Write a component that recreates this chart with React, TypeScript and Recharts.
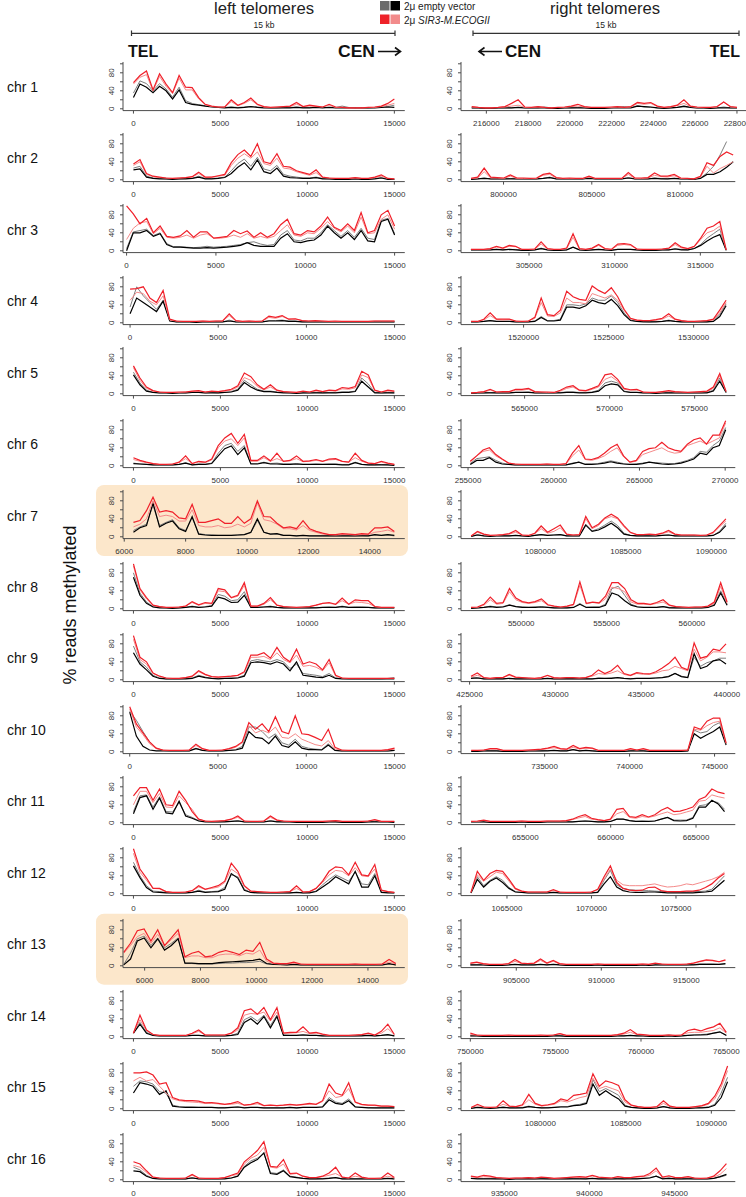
import { LineChart, Line, XAxis, YAxis } from 'recharts'

// bp offsets inside each 15 kb window (41 sampling points)
const OFFSETS = [
  0, 375, 750, 1125, 1500, 1875, 2250, 2625, 3000, 3375, 3750, 4125, 4500, 4875, 5250, 5625, 6000,
  6375, 6750, 7125, 7500, 7875, 8250, 8625, 9000, 9375, 9750, 10125, 10500, 10875, 11250, 11625,
  12000, 12375, 12750, 13125, 13500, 13875, 14250, 14625, 15000,
]

const CHROMS = ['chr 1', 'chr 2', 'chr 3', 'chr 4', 'chr 5', 'chr 6', 'chr 7', 'chr 8', 'chr 9', 'chr 10', 'chr 11', 'chr 12', 'chr 13', 'chr 14', 'chr 15', 'chr 16']

// ---------- left telomeres: % reads methylated ----------
const L1_grey = [35, 62, 56, 40, 56, 44, 26, 48, 18, 12, 9, 7, 5, 3, 3, 4, 3, 4, 5, 4, 3, 2, 2, 3, 3, 4, 3, 3, 3, 3, 3, 3, 6, 3, 2, 2, 2, 3, 3, 5, 8]
const L1_black = [25, 55, 48, 36, 50, 40, 22, 42, 14, 10, 8, 6, 4, 3, 2, 3, 2, 3, 5, 3, 2, 2, 2, 2, 2, 3, 2, 2, 3, 2, 3, 2, 2, 2, 2, 2, 2, 2, 3, 4, 3]
const L1_pink = [55, 70, 76, 40, 72, 50, 34, 68, 42, 42, 22, 9, 5, 4, 4, 16, 7, 12, 20, 9, 4, 3, 4, 5, 5, 10, 5, 6, 5, 4, 8, 3, 3, 2, 2, 2, 3, 3, 5, 8, 12]
const L1_red = [58, 74, 84, 42, 78, 55, 36, 74, 48, 47, 25, 10, 6, 4, 4, 20, 8, 14, 24, 10, 5, 3, 4, 5, 6, 14, 5, 8, 6, 4, 10, 4, 3, 2, 2, 2, 3, 4, 6, 12, 22]

const L2_grey = [26, 30, 8, 4, 3, 2, 2, 2, 3, 3, 8, 3, 3, 4, 6, 20, 36, 46, 30, 50, 24, 20, 32, 12, 8, 6, 4, 4, 6, 3, 2, 2, 2, 2, 3, 2, 2, 3, 5, 2, 1]
const L2_black = [22, 24, 6, 3, 2, 2, 1, 2, 2, 3, 6, 2, 2, 3, 5, 14, 28, 38, 22, 44, 18, 14, 26, 8, 5, 4, 3, 3, 5, 2, 2, 1, 1, 1, 2, 1, 1, 2, 4, 1, 1]
const L2_pink = [32, 40, 12, 7, 5, 4, 3, 4, 5, 6, 14, 5, 6, 8, 10, 32, 48, 58, 48, 62, 36, 32, 48, 26, 24, 18, 14, 10, 16, 5, 4, 3, 3, 3, 4, 3, 3, 5, 8, 3, 2]
const L2_red = [35, 45, 14, 8, 6, 4, 3, 4, 5, 7, 17, 6, 6, 9, 12, 38, 56, 66, 52, 80, 40, 36, 58, 30, 28, 20, 16, 12, 22, 6, 4, 3, 3, 3, 5, 3, 3, 6, 11, 3, 2]

const L3_grey = [5, 42, 45, 48, 34, 40, 16, 9, 9, 8, 7, 8, 10, 8, 9, 10, 12, 14, 18, 20, 15, 12, 14, 35, 45, 24, 22, 28, 28, 40, 58, 45, 32, 45, 30, 50, 28, 25, 68, 72, 38]
const L3_black = [0, 40, 40, 45, 32, 38, 14, 8, 8, 7, 6, 6, 7, 6, 7, 8, 10, 12, 18, 12, 10, 10, 10, 28, 38, 20, 18, 22, 24, 35, 55, 40, 28, 40, 25, 45, 22, 20, 65, 70, 35]
const L3_pink = [25, 50, 62, 65, 38, 50, 30, 28, 30, 35, 28, 35, 38, 28, 28, 30, 35, 30, 38, 28, 32, 28, 32, 45, 58, 35, 32, 40, 38, 50, 65, 50, 42, 55, 40, 75, 38, 40, 70, 80, 48]
const L3_red = [100, 82, 60, 72, 40, 55, 32, 30, 33, 45, 30, 42, 42, 28, 30, 32, 45, 38, 44, 30, 40, 30, 38, 58, 70, 38, 35, 45, 42, 55, 75, 52, 45, 60, 45, 85, 40, 45, 80, 90, 55]

const L4_grey = [35, 80, 60, 45, 30, 50, 5, 2, 2, 2, 2, 2, 2, 2, 2, 6, 2, 2, 2, 2, 2, 5, 5, 6, 4, 4, 2, 2, 2, 2, 2, 2, 2, 2, 2, 2, 2, 2, 2, 2, 2]
const L4_black = [20, 55, 45, 35, 25, 48, 4, 2, 2, 2, 1, 2, 2, 2, 2, 4, 2, 2, 2, 2, 2, 4, 4, 5, 3, 3, 2, 2, 2, 2, 2, 2, 2, 2, 2, 2, 2, 2, 2, 2, 2]
const L4_pink = [50, 68, 65, 48, 40, 60, 6, 4, 3, 3, 3, 4, 3, 4, 4, 16, 4, 3, 4, 3, 4, 12, 10, 14, 8, 8, 5, 4, 4, 4, 3, 3, 3, 3, 3, 3, 3, 4, 4, 4, 4]
const L4_red = [75, 76, 80, 55, 45, 72, 8, 4, 3, 3, 3, 4, 3, 4, 4, 20, 5, 3, 4, 3, 4, 15, 12, 16, 8, 9, 5, 4, 5, 4, 3, 4, 3, 3, 3, 3, 3, 4, 4, 4, 4]

const L5_grey = [48, 24, 8, 3, 2, 2, 2, 2, 2, 3, 3, 2, 3, 2, 3, 5, 10, 30, 20, 10, 6, 6, 4, 3, 2, 2, 2, 2, 3, 2, 3, 3, 4, 4, 6, 35, 22, 3, 2, 3, 2]
const L5_black = [42, 20, 6, 3, 2, 2, 1, 2, 2, 3, 3, 2, 2, 2, 3, 4, 8, 25, 15, 8, 5, 5, 3, 2, 2, 1, 2, 2, 2, 2, 2, 2, 3, 3, 5, 28, 15, 2, 2, 2, 2]
const L5_pink = [58, 30, 12, 6, 4, 3, 3, 3, 4, 5, 6, 4, 5, 5, 6, 8, 15, 36, 30, 16, 9, 15, 7, 5, 4, 3, 5, 4, 6, 5, 7, 6, 11, 10, 13, 42, 36, 7, 4, 6, 5]
const L5_red = [62, 35, 15, 7, 4, 3, 3, 4, 4, 6, 7, 4, 6, 5, 7, 10, 18, 46, 38, 20, 10, 20, 8, 5, 4, 3, 6, 4, 8, 5, 8, 7, 14, 12, 16, 50, 42, 8, 4, 8, 6]

const L6_grey = [6, 4, 3, 2, 2, 2, 2, 3, 7, 2, 4, 3, 6, 28, 45, 50, 32, 45, 5, 5, 8, 5, 6, 4, 4, 5, 3, 3, 4, 3, 4, 4, 3, 3, 8, 3, 2, 2, 3, 2, 2]
const L6_black = [5, 4, 3, 2, 2, 2, 2, 3, 6, 2, 3, 3, 5, 22, 38, 44, 25, 40, 4, 4, 7, 4, 4, 3, 3, 4, 3, 3, 3, 3, 3, 3, 2, 2, 7, 3, 2, 2, 2, 2, 1]
const L6_pink = [14, 10, 7, 5, 3, 3, 4, 7, 16, 5, 8, 7, 13, 40, 55, 60, 45, 62, 10, 10, 18, 10, 16, 10, 11, 16, 9, 10, 12, 10, 13, 14, 10, 8, 18, 10, 6, 5, 8, 5, 3]
const L6_red = [18, 12, 8, 5, 3, 3, 4, 8, 22, 5, 10, 8, 15, 45, 62, 72, 50, 70, 12, 12, 22, 11, 28, 10, 12, 22, 10, 11, 14, 10, 15, 16, 10, 8, 28, 12, 6, 5, 10, 6, 3]

const L7_grey = [14, 22, 28, 70, 25, 32, 38, 20, 14, 42, 7, 5, 4, 3, 3, 3, 4, 5, 9, 36, 10, 6, 6, 3, 3, 2, 3, 2, 2, 2, 2, 2, 2, 2, 2, 3, 2, 4, 3, 4, 2]
const L7_black = [10, 20, 25, 75, 22, 30, 35, 18, 12, 45, 6, 4, 3, 3, 3, 3, 4, 5, 10, 40, 10, 6, 7, 3, 3, 2, 3, 2, 2, 2, 2, 2, 2, 2, 2, 2, 2, 5, 3, 5, 3]
const L7_pink = [22, 28, 40, 80, 45, 48, 45, 35, 35, 60, 25, 22, 22, 25, 20, 22, 28, 22, 30, 75, 38, 35, 28, 18, 18, 15, 25, 14, 10, 6, 5, 4, 5, 5, 4, 5, 5, 10, 12, 15, 10]
const L7_red = [32, 36, 58, 88, 55, 58, 55, 42, 40, 72, 32, 32, 36, 40, 30, 30, 45, 30, 40, 80, 45, 44, 30, 20, 22, 18, 36, 18, 12, 8, 5, 5, 7, 6, 5, 7, 6, 20, 20, 22, 12]

const L8_grey = [80, 35, 15, 5, 3, 2, 2, 2, 3, 6, 3, 5, 7, 32, 28, 18, 20, 38, 4, 3, 4, 6, 3, 2, 2, 2, 2, 2, 3, 3, 4, 3, 6, 3, 4, 4, 3, 2, 2, 2, 2]
const L8_black = [70, 30, 12, 4, 2, 2, 1, 2, 3, 5, 3, 4, 6, 26, 22, 14, 15, 30, 3, 3, 4, 5, 3, 2, 2, 2, 2, 2, 2, 3, 3, 3, 5, 3, 3, 3, 3, 2, 2, 2, 2]
const L8_pink = [95, 42, 22, 8, 5, 3, 3, 4, 6, 14, 8, 12, 11, 40, 38, 24, 28, 52, 6, 6, 10, 20, 8, 5, 4, 3, 4, 5, 8, 12, 12, 10, 18, 10, 15, 14, 12, 5, 3, 3, 3]
const L8_red = [100, 45, 25, 8, 5, 3, 3, 4, 6, 16, 9, 14, 12, 45, 42, 25, 30, 58, 6, 6, 12, 25, 8, 5, 4, 3, 4, 5, 8, 12, 14, 10, 24, 10, 20, 18, 18, 5, 3, 3, 3]

const L9_grey = [75, 40, 28, 10, 4, 2, 2, 2, 3, 4, 10, 6, 3, 3, 3, 4, 5, 10, 42, 45, 42, 40, 45, 40, 25, 35, 14, 12, 10, 7, 14, 4, 3, 2, 2, 2, 2, 2, 2, 3, 5]
const L9_black = [60, 35, 22, 8, 3, 2, 2, 2, 2, 3, 8, 5, 3, 2, 3, 3, 4, 8, 38, 40, 38, 35, 40, 35, 20, 40, 10, 8, 6, 5, 10, 3, 2, 2, 2, 2, 2, 2, 2, 2, 2]
const L9_pink = [90, 45, 35, 14, 8, 4, 3, 3, 5, 7, 18, 11, 7, 6, 7, 8, 10, 16, 50, 50, 52, 45, 60, 45, 38, 55, 30, 32, 28, 20, 38, 8, 4, 3, 3, 3, 3, 3, 3, 3, 3]
const L9_red = [98, 50, 40, 15, 8, 4, 3, 3, 5, 8, 20, 12, 7, 6, 7, 8, 10, 18, 55, 55, 60, 48, 72, 50, 40, 68, 35, 40, 35, 22, 45, 10, 4, 3, 3, 3, 3, 3, 3, 3, 3]

const L10_grey = [90, 70, 45, 22, 8, 3, 2, 2, 2, 2, 8, 3, 2, 2, 2, 3, 5, 12, 55, 55, 45, 30, 40, 20, 15, 28, 12, 8, 6, 5, 18, 3, 2, 2, 2, 2, 2, 2, 2, 2, 3]
const L10_black = [88, 35, 12, 4, 2, 2, 2, 2, 2, 2, 7, 3, 2, 2, 2, 3, 4, 8, 45, 32, 30, 18, 35, 14, 10, 22, 8, 5, 5, 4, 15, 3, 2, 2, 2, 2, 2, 2, 2, 2, 3]
const L10_pink = [95, 55, 38, 18, 7, 4, 3, 3, 3, 4, 14, 6, 3, 3, 4, 6, 10, 20, 58, 42, 48, 42, 55, 32, 30, 40, 28, 22, 16, 13, 25, 6, 4, 3, 3, 3, 3, 3, 3, 4, 6]
const L10_red = [100, 62, 42, 22, 8, 4, 3, 3, 3, 4, 17, 7, 3, 3, 4, 7, 12, 22, 65, 50, 62, 45, 78, 45, 40, 80, 40, 38, 32, 25, 50, 10, 4, 3, 3, 3, 3, 3, 3, 5, 8]

const L11_grey = [25, 60, 62, 35, 58, 25, 24, 45, 18, 12, 5, 3, 2, 2, 3, 3, 5, 2, 2, 2, 2, 5, 3, 2, 2, 2, 2, 2, 2, 2, 2, 2, 2, 2, 2, 2, 2, 3, 2, 2, 2]
const L11_black = [20, 56, 60, 30, 55, 22, 20, 48, 15, 10, 4, 2, 2, 2, 2, 3, 4, 2, 2, 2, 2, 4, 2, 2, 2, 1, 1, 1, 1, 1, 2, 2, 1, 1, 1, 1, 2, 2, 2, 2, 1]
const L11_pink = [40, 70, 70, 45, 65, 35, 34, 60, 45, 30, 8, 4, 3, 4, 5, 8, 12, 4, 3, 3, 4, 12, 6, 4, 3, 3, 3, 3, 3, 3, 4, 5, 3, 3, 3, 3, 4, 6, 3, 3, 3]
const L11_red = [60, 78, 78, 50, 75, 40, 38, 70, 50, 25, 8, 4, 3, 4, 5, 8, 15, 4, 3, 3, 4, 15, 6, 4, 3, 3, 3, 3, 3, 3, 4, 5, 3, 3, 3, 3, 4, 7, 3, 3, 3]

const L12_grey = [70, 40, 18, 6, 5, 3, 2, 2, 2, 3, 8, 4, 5, 6, 14, 42, 38, 10, 3, 3, 2, 2, 2, 2, 2, 3, 2, 3, 6, 20, 32, 42, 35, 28, 48, 22, 20, 45, 4, 3, 2]
const L12_black = [62, 36, 14, 4, 3, 2, 2, 2, 2, 3, 6, 3, 4, 5, 10, 45, 35, 8, 3, 2, 2, 2, 2, 2, 2, 3, 2, 2, 5, 15, 25, 38, 30, 22, 50, 15, 15, 40, 3, 2, 2]
const L12_pink = [90, 48, 30, 12, 11, 5, 3, 3, 4, 7, 15, 10, 12, 15, 25, 55, 45, 16, 6, 5, 4, 3, 3, 4, 5, 12, 4, 5, 12, 25, 42, 52, 50, 40, 58, 40, 38, 55, 8, 5, 3]
const L12_red = [100, 55, 35, 12, 12, 5, 3, 3, 4, 7, 18, 10, 14, 18, 28, 68, 50, 18, 6, 5, 4, 3, 3, 4, 5, 18, 4, 5, 12, 28, 50, 60, 58, 42, 70, 42, 40, 65, 8, 5, 3]

const L13_grey = [3, 28, 60, 66, 45, 62, 40, 50, 62, 5, 5, 4, 4, 4, 5, 6, 6, 7, 7, 8, 10, 4, 3, 2, 2, 3, 2, 2, 2, 2, 2, 2, 2, 2, 2, 2, 2, 2, 2, 4, 2]
const L13_black = [2, 15, 55, 62, 40, 60, 35, 45, 60, 6, 6, 5, 5, 5, 7, 8, 9, 10, 11, 12, 15, 5, 3, 3, 2, 3, 2, 2, 2, 2, 2, 2, 2, 2, 2, 2, 2, 2, 2, 5, 2]
const L13_pink = [28, 45, 65, 72, 50, 70, 45, 58, 72, 18, 22, 22, 18, 18, 24, 26, 26, 22, 28, 26, 35, 10, 5, 4, 4, 6, 4, 3, 3, 3, 3, 3, 3, 3, 4, 3, 3, 3, 4, 8, 4]
const L13_red = [30, 50, 78, 82, 55, 80, 45, 62, 80, 20, 28, 32, 20, 22, 30, 34, 30, 25, 35, 32, 52, 15, 6, 5, 5, 8, 4, 3, 3, 3, 3, 3, 3, 3, 4, 3, 3, 3, 4, 14, 5]

const L14_grey = [8, 32, 10, 3, 2, 2, 2, 2, 2, 3, 3, 2, 2, 2, 2, 3, 8, 38, 45, 35, 48, 25, 48, 4, 3, 3, 5, 3, 3, 2, 2, 2, 2, 2, 2, 3, 3, 2, 3, 4, 2]
const L14_black = [8, 28, 8, 3, 2, 2, 2, 2, 2, 3, 3, 2, 2, 2, 2, 3, 5, 32, 40, 28, 45, 20, 45, 3, 3, 3, 4, 3, 3, 2, 2, 2, 2, 2, 2, 2, 3, 2, 3, 5, 2]
const L14_pink = [10, 38, 14, 5, 3, 3, 3, 3, 3, 7, 12, 4, 4, 4, 4, 7, 15, 48, 52, 50, 55, 35, 55, 8, 8, 9, 12, 7, 8, 5, 3, 3, 3, 3, 4, 5, 7, 4, 8, 18, 5]
const L14_red = [8, 48, 15, 5, 3, 3, 3, 3, 3, 8, 15, 4, 4, 4, 4, 8, 20, 58, 62, 50, 65, 38, 65, 8, 10, 10, 22, 8, 10, 6, 3, 3, 3, 3, 4, 5, 8, 4, 12, 28, 5]

const L15_grey = [50, 62, 60, 55, 38, 35, 8, 5, 4, 4, 3, 3, 3, 3, 3, 3, 4, 3, 3, 3, 2, 2, 2, 2, 3, 2, 3, 3, 3, 5, 25, 15, 12, 22, 5, 3, 3, 2, 2, 2, 2]
const L15_black = [35, 58, 55, 50, 32, 40, 6, 4, 3, 3, 3, 3, 3, 2, 2, 3, 4, 2, 3, 3, 2, 2, 2, 2, 3, 2, 3, 3, 3, 4, 20, 12, 10, 18, 4, 3, 2, 2, 2, 2, 2]
const L15_pink = [62, 70, 62, 65, 50, 35, 22, 18, 16, 15, 14, 12, 12, 11, 10, 10, 12, 8, 9, 11, 7, 8, 7, 8, 9, 8, 9, 10, 10, 16, 40, 25, 28, 45, 14, 9, 8, 7, 6, 6, 5]
const L15_red = [80, 80, 82, 75, 55, 58, 25, 20, 18, 18, 17, 13, 14, 12, 10, 12, 16, 8, 10, 14, 7, 8, 7, 8, 10, 8, 10, 12, 10, 18, 55, 35, 30, 58, 15, 10, 8, 8, 6, 6, 5]

const L16_grey = [28, 22, 10, 3, 2, 2, 2, 2, 2, 5, 2, 2, 2, 2, 3, 4, 8, 30, 42, 48, 58, 16, 14, 22, 8, 6, 3, 2, 2, 3, 4, 5, 2, 2, 2, 2, 2, 2, 2, 3, 2]
const L16_black = [20, 18, 8, 3, 2, 2, 2, 2, 2, 4, 2, 2, 2, 2, 2, 4, 8, 28, 38, 45, 60, 14, 12, 20, 7, 5, 3, 2, 2, 2, 3, 5, 2, 2, 2, 2, 2, 2, 2, 3, 2]
const L16_pink = [32, 28, 16, 6, 4, 3, 3, 3, 4, 10, 4, 3, 3, 3, 5, 9, 12, 35, 48, 55, 72, 28, 26, 35, 12, 14, 7, 5, 5, 7, 10, 14, 6, 4, 8, 5, 3, 3, 4, 8, 4]
const L16_red = [40, 35, 20, 6, 4, 3, 3, 3, 4, 12, 4, 3, 3, 3, 5, 10, 15, 40, 52, 65, 85, 30, 28, 45, 14, 15, 8, 5, 5, 8, 15, 28, 6, 4, 15, 6, 3, 3, 4, 15, 5]

// ---------- right telomeres ----------
const R1_grey = [2, 2, 2, 2, 2, 2, 2, 3, 2, 2, 2, 4, 2, 2, 2, 2, 3, 2, 2, 2, 2, 2, 4, 5, 3, 7, 4, 3, 2, 2, 2, 3, 4, 3, 2, 2, 2, 2, 4, 2, 2]
const R1_black = [2, 2, 1, 1, 2, 2, 2, 3, 2, 2, 2, 2, 1, 1, 2, 2, 2, 2, 1, 1, 1, 2, 2, 2, 2, 6, 5, 4, 2, 1, 2, 3, 6, 3, 2, 2, 1, 2, 2, 2, 2]
const R1_pink = [4, 3, 2, 2, 3, 4, 6, 8, 3, 3, 4, 3, 2, 3, 3, 5, 6, 4, 3, 3, 3, 3, 4, 3, 4, 12, 10, 12, 5, 3, 4, 7, 12, 5, 3, 3, 3, 4, 15, 4, 3]
const R1_red = [5, 3, 2, 2, 3, 5, 12, 20, 4, 3, 5, 3, 2, 3, 4, 6, 10, 5, 3, 3, 3, 4, 5, 3, 5, 14, 12, 14, 6, 3, 5, 8, 20, 6, 4, 3, 3, 5, 15, 5, 3]

const R2_grey = [2, 2, 4, 2, 2, 2, 3, 2, 2, 2, 2, 3, 6, 2, 2, 2, 2, 2, 4, 2, 2, 2, 2, 2, 5, 2, 2, 2, 4, 3, 2, 3, 2, 2, 2, 4, 15, 30, 55, 85, null]
const R2_black = [1, 2, 3, 2, 2, 2, 2, 2, 2, 2, 2, 3, 5, 2, 2, 2, 2, 2, 3, 2, 2, 2, 2, 2, 4, 2, 2, 2, 3, 2, 2, 3, 2, 2, 1, 3, 12, 12, 18, 28, 40]
const R2_pink = [3, 4, 18, 4, 4, 3, 8, 3, 3, 3, 3, 10, 12, 4, 3, 3, 3, 3, 6, 3, 3, 3, 3, 3, 12, 3, 3, 4, 10, 7, 6, 9, 3, 3, 2, 6, 30, 15, 25, 32, 40]
const R2_red = [3, 6, 26, 6, 5, 4, 11, 4, 4, 3, 4, 12, 15, 5, 3, 4, 3, 3, 8, 3, 3, 3, 3, 3, 16, 4, 4, 5, 15, 8, 8, 12, 4, 3, 2, 8, 38, 32, 52, 62, 55]

const R3_grey = [2, 2, 2, 2, 3, 2, 3, 3, 2, 2, 2, 6, 2, 2, 2, 2, 8, 2, 2, 2, 3, 2, 2, 3, 3, 3, 2, 2, 2, 2, 2, 2, 5, 3, 2, 5, 14, 28, 38, 48, 1]
const R3_black = [2, 2, 2, 2, 3, 2, 3, 2, 1, 1, 2, 5, 2, 1, 1, 2, 8, 2, 1, 2, 3, 2, 1, 3, 3, 3, 2, 1, 1, 1, 2, 2, 4, 2, 2, 5, 12, 22, 30, 36, 1]
const R3_pink = [3, 3, 3, 4, 8, 5, 10, 9, 3, 3, 4, 15, 4, 3, 3, 5, 30, 4, 3, 5, 12, 4, 3, 12, 14, 12, 4, 3, 3, 3, 4, 5, 14, 6, 5, 9, 25, 40, 45, 55, 2]
const R3_red = [3, 3, 3, 5, 10, 6, 12, 10, 3, 3, 4, 20, 5, 3, 3, 6, 38, 5, 3, 6, 14, 5, 3, 15, 16, 14, 4, 3, 3, 3, 4, 6, 18, 8, 5, 10, 28, 50, 55, 65, 2]

const R4_grey = [2, 2, 3, 5, 3, 3, 3, 2, 2, 2, 4, 14, 5, 5, 8, 40, 40, 38, 42, 55, 50, 50, 60, 45, 22, 6, 3, 3, 2, 3, 3, 6, 3, 2, 2, 2, 2, 2, 4, 18, 42]
const R4_black = [2, 2, 3, 5, 3, 3, 3, 2, 2, 2, 3, 12, 4, 4, 6, 35, 35, 32, 38, 50, 45, 42, 52, 38, 18, 5, 3, 2, 2, 2, 3, 5, 3, 2, 2, 2, 2, 2, 3, 14, 38]
const R4_pink = [3, 3, 6, 16, 7, 6, 7, 4, 3, 4, 10, 45, 15, 14, 22, 55, 45, 45, 42, 65, 60, 55, 62, 50, 28, 9, 6, 5, 5, 6, 8, 15, 7, 5, 3, 3, 4, 5, 6, 22, 45]
const R4_red = [3, 3, 8, 22, 8, 8, 8, 4, 3, 4, 12, 55, 18, 16, 28, 70, 58, 52, 50, 82, 72, 65, 78, 58, 30, 10, 6, 5, 5, 7, 10, 20, 8, 5, 3, 3, 4, 5, 8, 28, 50]

const R5_grey = [1, 2, 2, 3, 2, 2, 2, 3, 3, 4, 2, 2, 2, 2, 3, 4, 4, 3, 3, 4, 8, 24, 28, 24, 6, 3, 3, 2, 2, 2, 2, 2, 2, 2, 2, 2, 2, 3, 8, 35, 3]
const R5_black = [1, 2, 2, 2, 2, 2, 2, 3, 3, 3, 2, 2, 2, 2, 2, 3, 3, 2, 2, 3, 6, 18, 22, 20, 5, 3, 3, 2, 2, 1, 2, 2, 2, 2, 2, 2, 2, 2, 6, 28, 3]
const R5_pink = [2, 3, 4, 8, 4, 4, 4, 8, 8, 10, 4, 4, 3, 3, 6, 12, 15, 7, 6, 10, 15, 32, 38, 28, 10, 8, 8, 4, 3, 3, 4, 6, 4, 4, 3, 4, 4, 5, 12, 40, 5]
const R5_red = [2, 3, 5, 10, 4, 5, 5, 10, 10, 12, 5, 4, 4, 3, 8, 15, 18, 8, 7, 12, 18, 42, 45, 32, 12, 9, 10, 4, 3, 3, 5, 7, 5, 4, 3, 4, 5, 6, 15, 45, 5]

const R6_grey = [5, 16, 18, 20, 12, 6, 3, 2, 2, 2, 2, 2, 2, 2, 2, 2, 6, 8, 4, 4, 5, 8, 11, 8, 5, 3, 4, 6, 8, 7, 6, 5, 5, 8, 12, 18, 32, 30, 45, 55, 85]
const R6_black = [3, 12, 12, 18, 8, 4, 3, 2, 2, 2, 2, 2, 2, 2, 2, 2, 5, 8, 3, 3, 4, 6, 9, 6, 4, 3, 3, 5, 8, 6, 4, 3, 4, 6, 10, 15, 28, 25, 40, 45, 80]
const R6_pink = [8, 22, 32, 35, 22, 14, 6, 4, 3, 3, 3, 3, 4, 3, 3, 4, 22, 35, 14, 12, 16, 22, 32, 40, 20, 8, 10, 25, 30, 35, 40, 32, 28, 30, 45, 50, 55, 48, 55, 62, 95]
const R6_red = [10, 22, 35, 40, 25, 15, 6, 4, 3, 3, 3, 3, 4, 3, 3, 5, 28, 45, 15, 14, 18, 28, 40, 48, 22, 8, 12, 32, 38, 40, 52, 40, 35, 32, 48, 58, 62, 48, 68, 68, 100]

const R7_grey = [1, 5, 2, 2, 2, 2, 2, 3, 2, 2, 3, 5, 3, 4, 5, 2, 2, 2, 28, 13, 18, 26, 35, 25, 8, 3, 2, 2, 2, 2, 3, 4, 2, 2, 2, 2, 2, 2, 3, 12, 30]
const R7_black = [1, 4, 2, 1, 2, 2, 2, 3, 2, 1, 3, 5, 3, 4, 5, 2, 2, 2, 26, 12, 15, 22, 30, 20, 6, 3, 2, 2, 2, 2, 3, 4, 2, 2, 2, 2, 2, 2, 3, 10, 25]
const R7_pink = [2, 10, 5, 3, 3, 5, 6, 10, 4, 3, 7, 18, 8, 12, 20, 5, 4, 4, 40, 18, 25, 40, 45, 40, 22, 9, 5, 5, 5, 4, 7, 11, 5, 4, 4, 4, 3, 4, 8, 22, 35]
const R7_red = [2, 12, 6, 3, 4, 5, 7, 14, 4, 3, 8, 24, 10, 18, 26, 6, 4, 5, 45, 20, 28, 42, 50, 42, 25, 10, 5, 5, 6, 5, 8, 14, 6, 4, 4, 4, 3, 4, 10, 25, 40]

const R8_grey = [2, 2, 3, 6, 4, 5, 9, 5, 4, 3, 4, 5, 3, 2, 2, 2, 3, 12, 3, 4, 4, 10, 45, 50, 30, 10, 5, 3, 3, 3, 5, 3, 2, 2, 2, 2, 2, 3, 10, 40, 10]
const R8_black = [1, 2, 3, 5, 3, 4, 8, 5, 3, 3, 3, 4, 3, 2, 2, 2, 3, 10, 3, 3, 3, 8, 35, 30, 18, 8, 4, 3, 3, 3, 5, 2, 2, 2, 2, 2, 2, 3, 8, 35, 8]
const R8_pink = [3, 3, 8, 20, 10, 12, 38, 20, 14, 12, 14, 18, 8, 5, 4, 5, 8, 52, 11, 14, 12, 22, 48, 45, 38, 15, 10, 10, 9, 12, 15, 7, 5, 4, 3, 4, 4, 5, 12, 50, 12]
const R8_red = [3, 4, 10, 26, 12, 14, 45, 24, 16, 13, 16, 22, 9, 6, 4, 6, 10, 60, 12, 15, 13, 28, 58, 58, 45, 20, 12, 12, 10, 14, 20, 8, 5, 4, 3, 4, 4, 6, 15, 58, 15]

const R9_grey = [4, 5, 2, 2, 2, 2, 3, 2, 2, 2, 2, 2, 3, 2, 2, 2, 2, 2, 2, 2, 4, 3, 4, 5, 3, 3, 3, 3, 3, 4, 5, 8, 14, 8, 5, 50, 30, 38, 42, 48, 48]
const R9_black = [3, 4, 2, 2, 2, 2, 3, 2, 2, 2, 2, 2, 3, 2, 2, 2, 2, 2, 2, 2, 3, 3, 3, 5, 3, 2, 3, 3, 3, 4, 5, 7, 14, 7, 5, 58, 25, 30, 42, 45, 35]
const R9_pink = [6, 10, 5, 3, 5, 5, 10, 5, 5, 4, 3, 4, 9, 4, 4, 5, 5, 4, 5, 8, 14, 12, 15, 20, 12, 9, 14, 12, 12, 15, 20, 22, 30, 25, 20, 68, 42, 50, 62, 62, 60]
const R9_red = [8, 15, 5, 3, 5, 5, 12, 6, 5, 4, 3, 5, 10, 5, 4, 5, 5, 4, 5, 10, 22, 14, 20, 32, 14, 10, 16, 14, 13, 18, 26, 36, 50, 28, 22, 82, 48, 52, 68, 65, 80]

const R10_grey = [2, 2, 2, 2, 2, 2, 2, 2, 2, 2, 2, 2, 3, 3, 2, 2, 5, 2, 3, 2, 2, 2, 2, 2, 2, 2, 2, 2, 2, 2, 2, 2, 2, 2, 2, 48, 42, 45, 58, 65, 18]
const R10_black = [1, 1, 2, 2, 2, 1, 1, 1, 1, 2, 2, 2, 2, 3, 2, 2, 5, 2, 3, 2, 1, 1, 1, 1, 1, 2, 2, 2, 1, 1, 1, 1, 1, 1, 2, 40, 30, 38, 45, 55, 15]
const R10_pink = [3, 3, 4, 6, 6, 3, 3, 3, 3, 4, 4, 5, 7, 9, 6, 5, 10, 6, 8, 7, 3, 3, 3, 3, 3, 6, 4, 6, 3, 3, 3, 3, 3, 3, 4, 50, 48, 58, 65, 68, 18]
const R10_red = [3, 3, 4, 7, 7, 3, 3, 3, 3, 4, 5, 6, 8, 12, 7, 6, 14, 7, 10, 8, 3, 3, 3, 3, 3, 7, 4, 7, 3, 3, 3, 3, 3, 3, 4, 55, 50, 68, 75, 75, 20]

const R11_grey = [2, 2, 2, 2, 2, 2, 2, 2, 2, 2, 2, 2, 2, 2, 2, 2, 2, 3, 4, 3, 2, 2, 3, 8, 8, 5, 3, 4, 3, 4, 8, 12, 6, 6, 6, 12, 38, 40, 48, 45, 30]
const R11_black = [2, 2, 2, 1, 1, 1, 1, 1, 2, 1, 1, 1, 2, 2, 2, 2, 2, 3, 4, 3, 2, 2, 3, 8, 8, 5, 3, 3, 3, 4, 8, 12, 5, 4, 5, 10, 35, 35, 50, 42, 25]
const R11_pink = [3, 3, 5, 3, 3, 3, 3, 3, 4, 3, 3, 3, 4, 4, 4, 4, 7, 11, 14, 8, 6, 5, 7, 20, 25, 12, 10, 14, 12, 15, 20, 24, 18, 20, 24, 28, 48, 50, 62, 58, 55]
const R11_red = [3, 4, 6, 3, 3, 3, 3, 3, 4, 3, 3, 3, 4, 4, 4, 5, 8, 14, 18, 10, 7, 5, 8, 30, 32, 14, 12, 18, 13, 18, 28, 34, 25, 26, 30, 35, 52, 58, 75, 68, 65]

const R12_grey = [2, 38, 18, 30, 38, 30, 14, 5, 3, 2, 2, 2, 2, 3, 2, 2, 2, 2, 2, 2, 4, 30, 52, 20, 12, 9, 8, 7, 7, 6, 5, 5, 4, 4, 4, 5, 5, 6, 10, 25, 40]
const R12_black = [2, 32, 15, 28, 35, 25, 12, 4, 3, 2, 2, 2, 2, 3, 2, 2, 2, 2, 2, 2, 3, 22, 38, 15, 7, 4, 3, 3, 4, 4, 3, 2, 2, 2, 2, 2, 3, 4, 6, 18, 30]
const R12_pink = [3, 42, 28, 38, 48, 45, 28, 10, 6, 4, 4, 4, 4, 7, 4, 3, 3, 3, 3, 4, 9, 32, 55, 30, 20, 18, 18, 18, 20, 22, 18, 15, 16, 18, 22, 20, 24, 28, 32, 38, 48]
const R12_red = [3, 50, 30, 45, 52, 50, 32, 12, 6, 4, 4, 4, 4, 9, 4, 3, 3, 3, 3, 4, 10, 38, 62, 25, 12, 8, 7, 8, 14, 15, 7, 5, 5, 5, 6, 6, 8, 14, 22, 35, 45]

const R13_grey = [2, 2, 2, 2, 2, 2, 2, 3, 2, 2, 2, 3, 2, 3, 2, 2, 2, 2, 2, 2, 2, 2, 2, 2, 2, 2, 2, 2, 2, 2, 2, 2, 2, 2, 2, 3, 4, 4, 4, 3, 4]
const R13_black = [2, 2, 2, 1, 1, 1, 2, 3, 2, 2, 2, 3, 2, 3, 2, 1, 1, 1, 1, 1, 2, 1, 1, 1, 1, 1, 1, 2, 1, 2, 2, 2, 2, 2, 2, 2, 3, 3, 3, 3, 5]
const R13_pink = [5, 7, 4, 3, 3, 3, 4, 10, 5, 5, 5, 12, 5, 10, 4, 3, 3, 3, 3, 3, 4, 3, 3, 3, 3, 3, 3, 4, 3, 5, 4, 3, 3, 3, 4, 6, 9, 12, 11, 9, 12]
const R13_red = [6, 8, 5, 3, 3, 3, 5, 14, 6, 5, 6, 15, 6, 12, 5, 3, 3, 3, 3, 3, 4, 3, 3, 3, 3, 3, 3, 4, 3, 6, 4, 3, 3, 3, 4, 6, 10, 13, 12, 9, 13]

const R14_grey = [2, 2, 2, 2, 2, 2, 2, 2, 2, 2, 2, 2, 2, 2, 2, 2, 2, 2, 2, 2, 2, 2, 2, 2, 2, 3, 2, 2, 2, 2, 2, 4, 2, 2, 3, 4, 5, 6, 8, 10, 4]
const R14_black = [2, 2, 1, 1, 1, 1, 1, 1, 1, 1, 1, 1, 1, 2, 2, 1, 1, 1, 1, 1, 1, 1, 1, 2, 2, 3, 2, 2, 1, 1, 1, 2, 1, 2, 3, 4, 4, 5, 8, 11, 3]
const R14_pink = [5, 4, 3, 3, 3, 3, 3, 3, 3, 3, 3, 3, 3, 4, 7, 3, 3, 3, 3, 3, 3, 3, 3, 4, 6, 10, 5, 4, 3, 3, 3, 4, 3, 4, 9, 10, 10, 12, 14, 20, 8]
const R14_red = [8, 4, 3, 3, 3, 3, 4, 3, 3, 3, 3, 4, 3, 4, 7, 3, 3, 3, 3, 3, 3, 3, 3, 5, 8, 16, 6, 5, 3, 3, 3, 4, 3, 4, 14, 17, 13, 18, 22, 30, 10]

const R15_grey = [2, 3, 2, 2, 2, 4, 2, 2, 3, 6, 3, 2, 3, 3, 5, 5, 8, 10, 14, 65, 38, 45, 38, 30, 8, 3, 2, 2, 2, 2, 5, 2, 2, 2, 2, 2, 3, 4, 10, 35, 70]
const R15_black = [1, 3, 2, 1, 2, 3, 2, 2, 2, 5, 3, 2, 2, 3, 4, 4, 7, 8, 12, 55, 30, 40, 30, 22, 6, 3, 2, 1, 1, 2, 5, 2, 1, 1, 1, 2, 2, 3, 8, 25, 60]
const R15_pink = [3, 7, 4, 3, 4, 10, 5, 5, 7, 20, 10, 6, 8, 10, 18, 15, 20, 25, 28, 68, 45, 50, 45, 40, 15, 7, 5, 3, 3, 4, 12, 5, 3, 3, 3, 4, 6, 10, 22, 48, 85]
const R15_red = [3, 10, 4, 3, 4, 18, 6, 5, 9, 32, 12, 7, 9, 12, 22, 18, 30, 32, 35, 78, 50, 62, 58, 52, 20, 8, 5, 3, 3, 5, 18, 6, 3, 3, 3, 5, 7, 12, 28, 55, 95]

const R16_grey = [3, 3, 3, 3, 2, 2, 2, 2, 2, 2, 2, 3, 2, 2, 2, 2, 3, 3, 2, 3, 2, 2, 2, 3, 2, 4, 3, 3, 5, 8, 3, 4, 2, 2, 3, 2, 2, 2, 3, 6, 10]
const R16_black = [3, 2, 2, 2, 2, 2, 1, 2, 2, 2, 2, 2, 2, 2, 2, 2, 2, 2, 2, 3, 2, 2, 2, 2, 2, 2, 2, 3, 4, 8, 2, 3, 2, 2, 2, 2, 2, 2, 3, 7, 12]
const R16_pink = [7, 5, 7, 6, 5, 4, 3, 4, 4, 5, 4, 5, 5, 3, 4, 5, 6, 6, 5, 8, 5, 5, 4, 6, 5, 5, 6, 7, 10, 20, 5, 8, 5, 5, 6, 4, 3, 4, 6, 12, 25]
const R16_red = [8, 6, 10, 8, 5, 4, 3, 4, 4, 5, 4, 6, 5, 3, 4, 5, 6, 7, 6, 10, 6, 5, 4, 7, 5, 5, 7, 8, 14, 26, 6, 9, 5, 5, 7, 4, 3, 4, 8, 20, 36]

// window start and length (bp) of the sampled data
const LEFT_START = [0, 0, 0, 0, 0, 0, 6300, 0, 0, 0, 0, 0, 5250, 0, 0, 0]
const LEFT_SPAN = [15000, 15000, 15000, 15000, 15000, 15000, 8500, 15000, 15000, 15000, 15000, 15000, 9750, 15000, 15000, 15000]
const RIGHT_START = [215300, 798160, 301610, 1516910, 561850, 255130, 1075950, 547060, 425080, 730680, 651820, 1062870, 902300, 750000, 1075950, 933040]
const RIGHT_SPAN = [12700, 14850, 14900, 15000, 15000, 14900, 14900, 15000, 14870, 15000, 14850, 15000, 15000, 15000, 15000, 15000]

const LEFT_DOMAIN: [number, number][] = [
  [-600, 15600], [-600, 15600], [-200, 15570], [-400, 15580], [-600, 15600], [-600, 15600],
  [5960, 15140], [-600, 15600], [-600, 15600], [-380, 15580], [-600, 15600], [-600, 15600],
  [5225, 15320], [-600, 15600], [-600, 15600], [-600, 15600],
]
const RIGHT_DOMAIN: [number, number][] = [
  [214787, 228494], [797590, 813130], [301030, 317040], [1516320, 1532450],
  [561260, 577390], [254590, 270590], [1075360, 1091400], [546470, 562540],
  [424500, 440490], [730080, 746220], [651230, 667300], [1062280, 1078510],
  [901750, 917880], [749455, 765525], [1075360, 1091400], [932460, 948560],
]

const KB_TICKS = [0, 5000, 10000, 15000]
const ZOOM_TICKS = [6000, 8000, 10000, 12000, 14000]
const LEFT_TICKS = [KB_TICKS, KB_TICKS, KB_TICKS, KB_TICKS, KB_TICKS, KB_TICKS, ZOOM_TICKS, KB_TICKS, KB_TICKS, KB_TICKS, KB_TICKS, KB_TICKS, ZOOM_TICKS, KB_TICKS, KB_TICKS, KB_TICKS]
const RIGHT_TICKS = [
  [216000, 218000, 220000, 222000, 224000, 226000, 228000],
  [800000, 805000, 810000],
  [305000, 310000, 315000],
  [1520000, 1525000, 1530000],
  [565000, 570000, 575000],
  [255000, 260000, 265000, 270000],
  [1080000, 1085000, 1090000],
  [550000, 555000, 560000],
  [425000, 430000, 435000, 440000],
  [735000, 740000, 745000],
  [655000, 660000, 665000],
  [1065000, 1070000, 1075000],
  [905000, 910000, 915000],
  [750000, 755000, 760000, 765000],
  [1080000, 1085000, 1090000],
  [935000, 940000, 945000],
]
const Y_TICKS = [0, 20, 40, 60, 80, 100]

const LEFT_SERIES = [
  [L1_grey, L1_black, L1_pink, L1_red], [L2_grey, L2_black, L2_pink, L2_red],
  [L3_grey, L3_black, L3_pink, L3_red], [L4_grey, L4_black, L4_pink, L4_red],
  [L5_grey, L5_black, L5_pink, L5_red], [L6_grey, L6_black, L6_pink, L6_red],
  [L7_grey, L7_black, L7_pink, L7_red], [L8_grey, L8_black, L8_pink, L8_red],
  [L9_grey, L9_black, L9_pink, L9_red], [L10_grey, L10_black, L10_pink, L10_red],
  [L11_grey, L11_black, L11_pink, L11_red], [L12_grey, L12_black, L12_pink, L12_red],
  [L13_grey, L13_black, L13_pink, L13_red], [L14_grey, L14_black, L14_pink, L14_red],
  [L15_grey, L15_black, L15_pink, L15_red], [L16_grey, L16_black, L16_pink, L16_red],
]
const RIGHT_SERIES = [
  [R1_grey, R1_black, R1_pink, R1_red], [R2_grey, R2_black, R2_pink, R2_red],
  [R3_grey, R3_black, R3_pink, R3_red], [R4_grey, R4_black, R4_pink, R4_red],
  [R5_grey, R5_black, R5_pink, R5_red], [R6_grey, R6_black, R6_pink, R6_red],
  [R7_grey, R7_black, R7_pink, R7_red], [R8_grey, R8_black, R8_pink, R8_red],
  [R9_grey, R9_black, R9_pink, R9_red], [R10_grey, R10_black, R10_pink, R10_red],
  [R11_grey, R11_black, R11_pink, R11_red], [R12_grey, R12_black, R12_pink, R12_red],
  [R13_grey, R13_black, R13_pink, R13_red], [R14_grey, R14_black, R14_pink, R14_red],
  [R15_grey, R15_black, R15_pink, R15_red], [R16_grey, R16_black, R16_pink, R16_red],
]
const HIGHLIGHTED = [6, 12] // chr 7 and chr 13 left panels

// drawing order: grey, black, light red, red on top
const LINES = [
  { key: 'grey', color: '#7d7d7d', width: 1 },
  { key: 'black', color: '#000000', width: 1.2 },
  { key: 'pink', color: '#f48a8a', width: 1 },
  { key: 'red', color: '#f0202a', width: 1.2 },
]

const FONT = "'Liberation Sans', Arial, Helvetica, sans-serif"
const AXIS = '#4a4a4a'
const TEXT = '#333333'

const ROW0 = 108.3
const ROW_STEP = 71.45
const Y_AXIS_W = 40
const X_AXIS_H = 22
const TOP_PAD = 2
const RIGHT_PAD = 26
const PLOT_H = 48.6
const LEFT_X = 122.7
const LEFT_W = 281.8
const RIGHT_X = 460.7
const RIGHT_W = 274.3

const zeroY = (row: number) => ROW0 + row * ROW_STEP

function buildRows(start: number, span: number, series: (number | null)[][]) {
  return OFFSETS.map((o, i) => ({
    x: start + (o * span) / 15000,
    grey: series[0][i],
    black: series[1][i],
    pink: series[2][i],
    red: series[3][i],
  }))
}

function YTick(props: any) {
  const { y, payload } = props
  const v = payload.value
  if (v % 40 !== 0) return <g />
  const bx = Y_AXIS_W - 8.8
  return (
    <text x={bx} y={y} transform={`rotate(-90 ${bx} ${y})`} textAnchor="middle" fontSize={8} fill={TEXT} fontFamily={FONT}>
      {v}
    </text>
  )
}

interface PanelProps {
  left: number
  top: number
  plotW: number
  data: any[]
  domain: [number, number]
  ticks: number[]
  labelGap: number
}

function Panel({ left, top, plotW, data, domain, ticks, labelGap }: PanelProps) {
  return (
    <div style={{ position: 'absolute', left, top }}>
      <LineChart
        width={Y_AXIS_W + plotW + RIGHT_PAD}
        height={TOP_PAD + PLOT_H + X_AXIS_H}
        data={data}
        margin={{ top: TOP_PAD, right: RIGHT_PAD, bottom: 0, left: 0 }}
      >
        <XAxis
          dataKey="x"
          type="number"
          domain={domain}
          ticks={ticks}
          interval={0}
          allowDataOverflow
          height={X_AXIS_H}
          tickSize={3}
          tickMargin={labelGap}
          stroke={AXIS}
          tick={{ fontSize: 8, fill: TEXT, fontFamily: FONT }}
          tickFormatter={(v) => String(v)}
        />
        <YAxis
          type="number"
          domain={[-4, 104]}
          ticks={Y_TICKS}
          interval={0}
          allowDataOverflow
          width={Y_AXIS_W}
          tickSize={3}
          stroke={AXIS}
          tick={<YTick />}
        />
        {LINES.map((l) => (
          <Line
            key={l.key}
            type="linear"
            dataKey={l.key}
            stroke={l.color}
            strokeWidth={l.width}
            dot={false}
            activeDot={false}
            isAnimationActive={false}
          />
        ))}
      </LineChart>
    </div>
  )
}

function Header() {
  return (
    <svg width={746} height={1197} style={{ position: 'absolute', left: 0, top: 0 }} fontFamily={FONT}>
      {HIGHLIGHTED.map((r) => (
        <rect key={r} x={96} y={zeroY(r) - 52} width={312} height={71} rx={8} fill="#fce7cb" />
      ))}

      <text x={264} y={14} textAnchor="middle" fontSize={16} textLength={100} lengthAdjust="spacingAndGlyphs" fill="#222">left telomeres</text>
      <text x={605} y={14} textAnchor="middle" fontSize={16} textLength={110} lengthAdjust="spacingAndGlyphs" fill="#222">right telomeres</text>

      <rect x={380} y={1} width={9.5} height={9.5} fill="#6b6b6b" />
      <rect x={390.5} y={1} width={9.5} height={9.5} fill="#000" />
      <rect x={380} y={14.5} width={9.5} height={9.5} fill="#ee2229" />
      <rect x={390.5} y={14.5} width={9.5} height={9.5} fill="#f28b8b" />
      <text x={404} y={10} fontSize={10} fill="#222">2μ empty vector</text>
      <text x={404} y={23.5} fontSize={10} fill="#222">
        2μ <tspan fontStyle="italic">SIR3-M.ECOGII</tspan>
      </text>

      <text x={264} y={28} textAnchor="middle" fontSize={8.5} fill="#222">15 kb</text>
      <text x={606} y={28} textAnchor="middle" fontSize={8.5} fill="#222">15 kb</text>
      <path d="M131.5 30.5 V36 M131.5 33.3 H395 M395 30.5 V36" stroke="#333" strokeWidth={1.2} fill="none" />
      <path d="M473 30.5 V36 M473 33.3 H739 M739 30.5 V36" stroke="#333" strokeWidth={1.2} fill="none" />

      <text x={128} y={57} fontSize={16} fontWeight="bold" fill="#111">TEL</text>
      <text x={338} y={57} fontSize={16} fontWeight="bold" textLength={37} lengthAdjust="spacingAndGlyphs" fill="#111">CEN</text>
      <path d="M378 51.5 H400 M395 47.5 L400.5 51.5 L395 55.5" stroke="#111" strokeWidth={1.6} fill="none" />
      <path d="M502 51.5 H479 M484.5 47.5 L479 51.5 L484.5 55.5" stroke="#111" strokeWidth={1.6} fill="none" />
      <text x={505} y={57} fontSize={16} fontWeight="bold" textLength={36} lengthAdjust="spacingAndGlyphs" fill="#111">CEN</text>
      <text x={740} y={57} textAnchor="end" fontSize={16} fontWeight="bold" fill="#111">TEL</text>

      {CHROMS.map((c, r) => (
        <text key={c} x={7} y={zeroY(r) - 16.5} fontSize={14} fill="#111">{c}</text>
      ))}

      <text x={76} y={605} transform="rotate(-90 76 605)" textAnchor="middle" fontSize={18} fill="#111">
        % reads methylated
      </text>
    </svg>
  )
}

export default function App() {
  return (
    <div
      style={{
        position: 'absolute',
        left: 0,
        top: 0,
        width: 746,
        height: 1197,
        overflow: 'hidden',
        background: '#fff',
        fontFamily: FONT,
      }}
    >
      <Header />
      {CHROMS.map((c, r) => {
        const top = zeroY(r) - 46.8 - TOP_PAD
        // the last row sits against the bottom edge, so its labels hug the axis a little closer
        const labelGap = r === CHROMS.length - 1 ? 5.5 : 7
        return (
          <div key={c}>
            <Panel
              left={LEFT_X - Y_AXIS_W}
              top={top}
              plotW={LEFT_W}
              data={buildRows(LEFT_START[r], LEFT_SPAN[r], LEFT_SERIES[r])}
              domain={LEFT_DOMAIN[r]}
              ticks={LEFT_TICKS[r]}
              labelGap={labelGap}
            />
            <Panel
              left={RIGHT_X - Y_AXIS_W}
              top={top}
              plotW={r === 0 ? 286.3 : RIGHT_W}
              data={buildRows(RIGHT_START[r], RIGHT_SPAN[r], RIGHT_SERIES[r])}
              domain={RIGHT_DOMAIN[r]}
              ticks={RIGHT_TICKS[r]}
              labelGap={labelGap}
            />
          </div>
        )
      })}
    </div>
  )
}
